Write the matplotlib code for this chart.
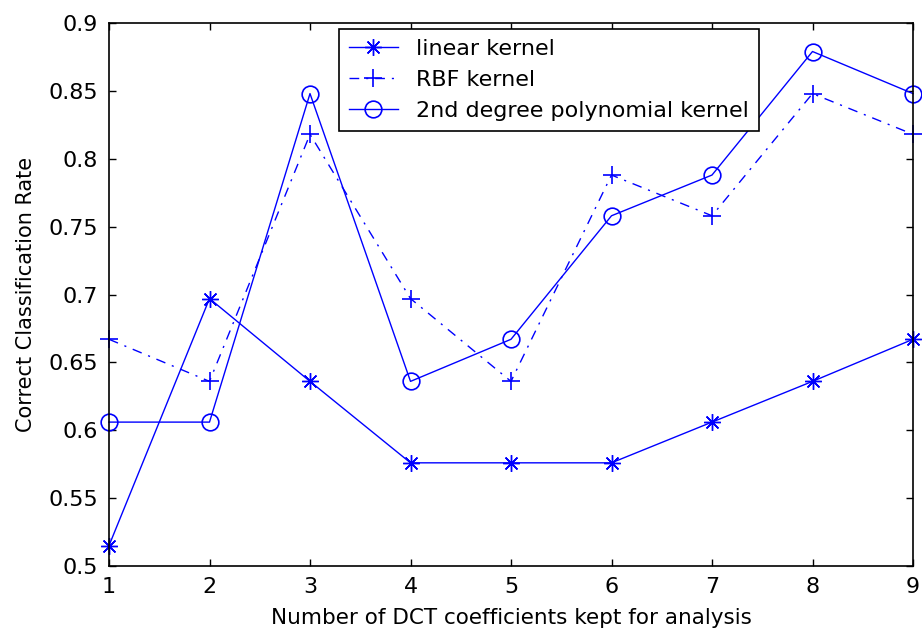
import matplotlib
matplotlib.use("Agg")
import matplotlib.pyplot as plt

x = [1, 2, 3, 4, 5, 6, 7, 8, 9]
linear = [0.515, 0.697, 0.636, 0.576, 0.576, 0.576, 0.606, 0.636, 0.667]
rbf = [0.667, 0.636, 0.818, 0.697, 0.636, 0.788, 0.758, 0.848, 0.818]
poly = [0.606, 0.606, 0.848, 0.636, 0.667, 0.758, 0.788, 0.879, 0.848]
labels = ["linear kernel", "RBF kernel", "2nd degree polynomial kernel"]
yticks = [0.5, 0.55, 0.6, 0.65, 0.7, 0.75, 0.8, 0.85, 0.9]
yticklabels = ["0.5", "0.55", "0.6", "0.65", "0.7", "0.75", "0.8", "0.85", "0.9"]

plt.rcParams['font.family'] = ['DejaVu Sans']
fig = plt.figure(figsize=(9.22, 6.37), dpi=100)
ax = fig.add_axes([109/922, 71/637, 804/922, 543/637])
blue = (0, 0, 1)
ax.plot(x, linear, color=blue, linestyle='-', marker=(8, 2, 0), markersize=12, mew=1.0, lw=1.0,
        label=labels[0], clip_on=False)
ax.plot(x, rbf, color=blue, linestyle=(0, (7, 5, 1.5, 5)), marker='+', markersize=13, mew=1.2, lw=1.0,
        label=labels[1], clip_on=False)
ax.plot(x, poly, color=blue, linestyle='-', marker='o', markersize=12, mfc='none', mew=1.2, lw=1.0,
        label=labels[2], clip_on=False)

ax.set_xlim(1, 9)
ax.set_ylim(0.5, 0.9)
ax.set_xticks(x)
ax.set_yticks(yticks)
ax.set_yticklabels(yticklabels)
ax.tick_params(direction='in', length=5, labelsize=16, top=True, right=True, pad=8, width=1.0)
for s in ax.spines.values():
    s.set_linewidth(1.2)
ax.set_xlabel("Number of DCT coefficients kept for analysis", fontsize=15.5, labelpad=8)
ax.set_ylabel("Correct Classification Rate", fontsize=15, labelpad=9)
leg = ax.legend(loc='upper left', bbox_to_anchor=((339 - 109) / 804, (566 - 29) / 543), borderaxespad=0,
                fontsize=16, fancybox=False, edgecolor='black', framealpha=1,
                handlelength=2.2, labelspacing=0.5, borderpad=0.45, handletextpad=0.8)
leg.get_frame().set_linewidth(1.2)
fig.savefig("out.png", dpi=100)
